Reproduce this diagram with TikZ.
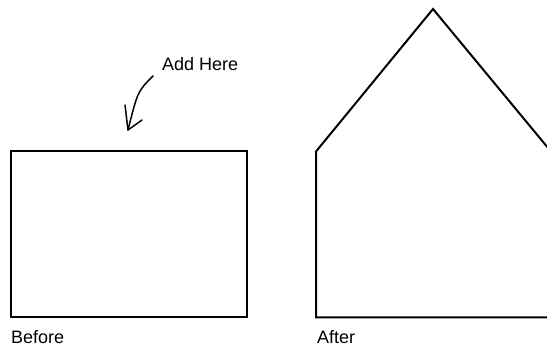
\documentclass[tikz,border=0pt]{standalone}
\usepackage{fontspec}
\setmainfont{Liberation Sans}
\begin{document}
\begin{tikzpicture}[x=1pt,y=-1pt,
  shape line/.style={line width=2pt,line join=miter},
  lbl/.style={inner sep=0pt,anchor=base west,font=\fontsize{18}{20}\selectfont},
  pointer/.style={line width=1.5pt,line cap=round,line join=round}]
\useasboundingbox (0,0) rectangle (547,347);
\clip (0,0) rectangle (547,347);
% Before
\draw[shape line] (10.5,151.5) rectangle (246.5,317.5);
% After (house)
\draw[shape line] (316,317.5) -- (316,151.5) -- (433,9) -- (551,151.5) -- (551,317.5) -- cycle;
% labels
\node[lbl] (add) at (162,70.5) {Add Here};
\node[lbl] (before) at (11,344) {Before};
\node[lbl] (after) at (317,344) {After};
% pointer arrow
\coordinate (s) at (153,76);
\coordinate (t) at (128,130);
\coordinate (a1) at (125,105);
\coordinate (a2) at (142,120);
\draw[pointer] (s) .. controls (137.7,91.3) .. (t);
\draw[pointer] (a1) -- (t) -- (a2);
\end{tikzpicture}
\end{document}
